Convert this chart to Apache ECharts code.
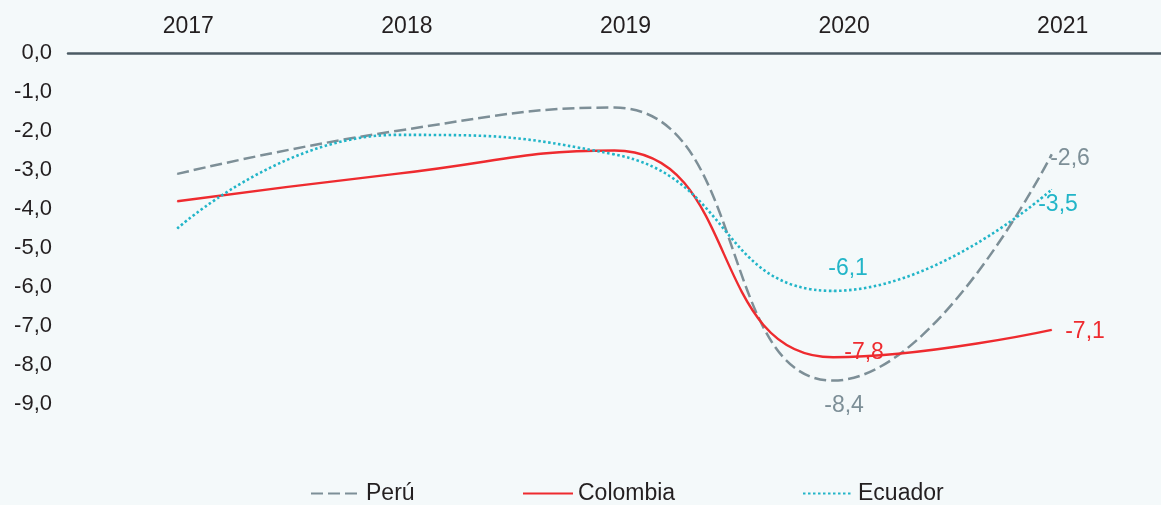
<!DOCTYPE html>
<html>
<head>
<meta charset="utf-8">
<script src="https://cdn.jsdelivr.net/npm/echarts@6/dist/echarts.min.js"></script>
<style>
  html, body { margin: 0; padding: 0; background: #f4f9fa; }
  #chart { width: 1161px; height: 505px; }
</style>
</head>
<body>
<div id="chart"></div>
<script>
// años y valores
const years = ['2017', '2018', '2019', '2020', '2021'];
const peru = [-3.1, -2.0, -1.4, -8.4, -2.6];
const colombia = [-3.8, -3.1, -2.5, -7.8, -7.1];
const ecuador = [-4.5, -2.1, -2.6, -6.1, -3.5];

const FONT = 'Liberation Sans, Arial, sans-serif';
const TEXT = '#231f20';
const C_PERU = '#7d8f97';
const C_COL = '#ee2b2f';
const C_ECU = '#22b5c8';

function fmt(v) {
  return v.toFixed(1).replace('.', ',');
}

// solo los dos últimos puntos llevan etiqueta
function withLabels(values, color, labelOpts) {
  return values.map((v, i) => {
    if (!labelOpts[i]) return v;
    return {
      value: v,
      label: Object.assign({
        show: true,
        color: color,
        fontSize: 23,
        fontFamily: FONT,
        formatter: (p) => fmt(p.value)
      }, labelOpts[i])
    };
  });
}

const chart = echarts.init(document.getElementById('chart'));

const legendBase = {
  top: 482,
  padding: 0,
  itemWidth: 50,
  itemHeight: 14,
  itemStyle: { opacity: 0 },
  textStyle: { fontSize: 23, color: TEXT, fontFamily: FONT }
};

const lineBase = {
  type: 'line',
  smooth: true,
  symbol: 'circle',
  symbolSize: 1,
  showSymbol: true,
  emphasis: { disabled: true }
};

chart.setOption({
  backgroundColor: '#f4f9fa',
  animation: false,
  grid: { left: 68, right: 0, top: 53, bottom: 101 },
  legend: [
    Object.assign({ data: ['Perú'], left: 310 }, legendBase),
    Object.assign({ data: ['Colombia'], left: 522 }, legendBase),
    Object.assign({ data: ['Ecuador'], left: 802 }, legendBase)
  ],
  xAxis: {
    type: 'category',
    position: 'top',
    data: years,
    boundaryGap: true,
    axisLine: { onZero: false, lineStyle: { color: '#4b5b64', width: 2.5 } },
    axisTick: { show: false },
    axisLabel: {
      margin: 15,
      fontSize: 23,
      color: TEXT,
      fontFamily: FONT,
      padding: [0, 0, 0, 22]
    }
  },
  yAxis: {
    type: 'value',
    min: -9,
    max: 0,
    interval: 1,
    axisLine: { show: false },
    axisTick: { show: false },
    splitLine: { show: false },
    axisLabel: {
      margin: 16,
      fontSize: 22,
      color: TEXT,
      fontFamily: FONT,
      formatter: fmt
    }
  },
  series: [
    Object.assign({
      name: 'Perú',
      color: C_PERU,
      lineStyle: { color: C_PERU, width: 2.5, type: [12, 5] },
      data: withLabels(peru, C_PERU, {
        3: { position: 'bottom', distance: 13, offset: [11, 0] },
        4: { position: 'right', distance: 0, offset: [-2, 4] }
      })
    }, lineBase),
    Object.assign({
      name: 'Colombia',
      color: C_COL,
      lineStyle: { color: C_COL, width: 2.4 },
      data: withLabels(colombia, C_COL, {
        3: { position: 'top', distance: 0, offset: [31, 7] },
        4: { position: 'right', distance: 13, offset: [0, 2] }
      })
    }, lineBase),
    Object.assign({
      name: 'Ecuador',
      color: C_ECU,
      lineStyle: { color: C_ECU, width: 2.6, type: [2.5, 2.5] },
      data: withLabels(ecuador, C_ECU, {
        3: { position: 'top', distance: 10, offset: [15, 0] },
        4: { position: 'right', distance: 0, offset: [-14, 15] }
      })
    }, lineBase)
  ]
});
</script>
</body>
</html>
